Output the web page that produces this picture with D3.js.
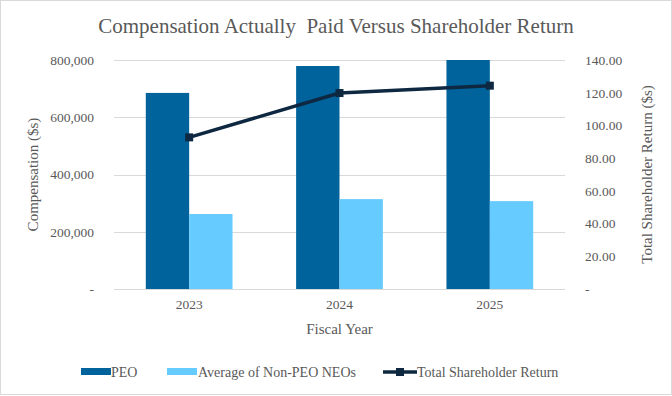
<!DOCTYPE html>
<html>
<head>
<meta charset="utf-8">
<script src="https://cdn.jsdelivr.net/npm/d3@7"></script>
<style>
  body { margin: 0; background: #fff; }
  svg text { font-family: "Liberation Serif", "Times New Roman", serif; }
</style>
</head>
<body>
<div id="chart"></div>
<script>
const years = ['2023', '2024', '2025'];
const peo = [685000, 779000, 800000];
const nonPeo = [262000, 314000, 307000];
const tsr = [92.7, 119.8, 124.3];
const leftTicks = [0, 200000, 400000, 600000, 800000];
const rightTicks = [0, 20, 40, 60, 80, 100, 120, 140];

const w = 672, h = 396;
const m = { t: 60, r: 107, b: 107, l: 114 };
const innerW = w - m.l - m.r;
const innerH = h - m.t - m.b;
const cDark = '#00639b', cLight = '#66cbff', cLine = '#0e2841';
const txt = '#595959';

const svg = d3.select('#chart').append('svg').attr('width', w).attr('height', h);
svg.append('rect').attr('x', 0.5).attr('y', 0.5).attr('width', w - 1).attr('height', h - 2)
  .attr('fill', '#fff').attr('stroke', '#d9d9d9');

svg.append('text').attr('x', w / 2).attr('y', 33).attr('text-anchor', 'middle')
  .attr('font-size', 21).attr('fill', txt).style('white-space', 'pre')
  .text('Compensation Actually  Paid Versus Shareholder Return');

const g = svg.append('g').attr('transform', `translate(${m.l},${m.t})`);

const x = d3.scaleBand().domain(years).range([0, innerW]).paddingInner(0.423).paddingOuter(0.2115);
const x1 = d3.scaleBand().domain(['peo', 'non']).range([0, x.bandwidth()]);
const yL = d3.scaleLinear().domain([0, 800000]).range([innerH, 0]);
const yR = d3.scaleLinear().domain([0, 140]).range([innerH, 0]);

// gridlines
g.append('g').selectAll('line').data(leftTicks).enter().append('line')
  .attr('x1', 0).attr('x2', innerW)
  .attr('y1', d => Math.round(yL(d)) + 0.5).attr('y2', d => Math.round(yL(d)) + 0.5)
  .attr('stroke', '#d9d9d9').attr('stroke-width', 1);

const fmtL = d => d === 0 ? '-' : d3.format(',')(d);
const fmtR = d => d === 0 ? '-' : d3.format('.2f')(d);

const axL = g.append('g').attr('transform', 'translate(-17,0)')
  .call(d3.axisLeft(yL).tickValues(leftTicks).tickFormat(fmtL).tickSize(0));
const axR = g.append('g').attr('transform', `translate(${innerW + 17},0)`)
  .call(d3.axisRight(yR).tickValues(rightTicks).tickFormat(fmtR).tickSize(0));
[axL, axR].forEach(a => {
  a.select('.domain').remove();
  a.selectAll('text').attr('fill', txt).attr('font-size', 13.5)
    .style('font-family', '"Liberation Serif", serif');
});

const axB = g.append('g').attr('transform', `translate(0,${innerH})`)
  .call(d3.axisBottom(x).tickSize(0).tickPadding(10));
axB.select('.domain').remove();
axB.selectAll('text').attr('fill', txt).attr('font-size', 13.5)
  .style('font-family', '"Liberation Serif", serif');

// bars
const grp = g.append('g').selectAll('g').data(years).enter().append('g')
  .attr('transform', d => `translate(${x(d)},0)`);
grp.append('rect').attr('x', x1('peo')).attr('width', x1.bandwidth())
  .attr('y', (d, i) => yL(peo[i])).attr('height', (d, i) => innerH - yL(peo[i])).attr('fill', cDark);
grp.append('rect').attr('x', x1('non')).attr('width', x1.bandwidth())
  .attr('y', (d, i) => yL(nonPeo[i])).attr('height', (d, i) => innerH - yL(nonPeo[i])).attr('fill', cLight);

// TSR line
const line = d3.line().x((d, i) => x(years[i]) + x.bandwidth() / 2).y(d => yR(d));
g.append('path').datum(tsr).attr('d', line).attr('fill', 'none')
  .attr('stroke', cLine).attr('stroke-width', 3.5).attr('stroke-linejoin', 'round');
g.append('g').selectAll('rect').data(tsr).enter().append('rect')
  .attr('x', (d, i) => x(years[i]) + x.bandwidth() / 2 - 4).attr('y', d => yR(d) - 4)
  .attr('width', 8).attr('height', 8).attr('fill', cLine);

// axis titles
svg.append('text').attr('transform', `translate(38,${m.t + innerH / 2}) rotate(-90)`)
  .attr('text-anchor', 'middle').attr('font-size', 15).attr('fill', txt).text('Compensation ($s)');
svg.append('text').attr('transform', `translate(652,${m.t + innerH / 2}) rotate(-90)`)
  .attr('text-anchor', 'middle').attr('font-size', 15).attr('fill', txt).text('Total Shareholder Return ($s)');
svg.append('text').attr('x', m.l + innerW / 2).attr('y', 334).attr('text-anchor', 'middle')
  .attr('font-size', 15).attr('fill', txt).text('Fiscal Year');

// legend
const ly = 372;
const leg = svg.append('g');
leg.append('rect').attr('x', 81).attr('y', ly - 4).attr('width', 30).attr('height', 7).attr('fill', cDark);
leg.append('text').attr('x', 111).attr('y', ly + 5).attr('font-size', 14).attr('fill', txt).text('PEO');
leg.append('rect').attr('x', 167).attr('y', ly - 4).attr('width', 30).attr('height', 7).attr('fill', cLight);
leg.append('text').attr('x', 198).attr('y', ly + 5).attr('font-size', 14).attr('fill', txt).text('Average of Non-PEO NEOs');
leg.append('line').attr('x1', 383).attr('x2', 417).attr('y1', ly).attr('y2', ly)
  .attr('stroke', cLine).attr('stroke-width', 3.5);
leg.append('rect').attr('x', 396).attr('y', ly - 4).attr('width', 8).attr('height', 8).attr('fill', cLine);
leg.append('text').attr('x', 417).attr('y', ly + 5).attr('font-size', 14).attr('fill', txt).text('Total Shareholder Return');
</script>
</body>
</html>
